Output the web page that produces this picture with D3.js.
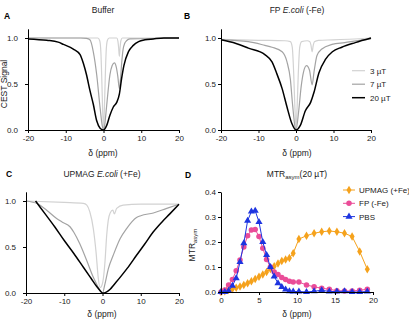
<!DOCTYPE html>
<html><head><meta charset="utf-8">
<script src="https://cdn.jsdelivr.net/npm/d3@7"></script>
<style>
body{margin:0;background:#fff;}
svg text{font-family:"Liberation Sans",Arial,sans-serif;}
</style></head>
<body><svg id="c" width="409" height="322"></svg>
<script>
// ---------- Data ----------
// Panel A: Buffer
const ppmA3 = [-20,-5,-1.5,-1.0,-0.7,-0.45,-0.25,0,0.25,0.45,0.7,1.0,1.5,3.5,3.8,4.0,4.2,4.4,4.6,5.0,20];
const sigA3 = [1.0,1.0,1.0,0.97,0.85,0.55,0.25,0.02,0.25,0.55,0.85,0.97,1.0,1.0,0.97,0.9,0.8,0.9,0.97,1.0,1.0];
const ppmA7 = [-20,-6,-4.5,-3.6,-2.7,-1.8,-0.9,-0.3,0,0.3,0.85,1.7,2.3,2.9,3.4,3.8,4.2,4.5,4.8,5.2,5.6,6.1,7,20];
const sigA7 = [1.0,1.0,0.995,0.98,0.85,0.6,0.24,0.04,0.0,0.05,0.27,0.6,0.7,0.73,0.68,0.58,0.45,0.55,0.72,0.88,0.94,0.97,0.99,1.0];
const ppmA20 = [-20,-15,-12,-10.6,-8,-6.2,-5.3,-4.5,-3.6,-2.7,-1.8,-0.9,0,0.85,1.7,2.6,3.5,4.2,4.8,5.4,6.6,7.9,9.3,11,13.2,16,20];
const sigA20 = [0.99,0.975,0.955,0.93,0.88,0.82,0.72,0.6,0.43,0.28,0.1,0.02,0.0,0.05,0.16,0.25,0.3,0.39,0.56,0.7,0.85,0.92,0.96,0.98,0.99,1.0,1.0];
// Panel B: FP E.coli (-Fe)
const ppmB3 = [-20,-10,-3,-1.5,-1.0,-0.6,-0.3,0,0.3,0.6,1.0,1.5,3,3.7,4.0,4.3,4.6,4.9,6,10,20];
const sigB3 = [0.985,0.975,0.97,0.96,0.9,0.6,0.25,0.03,0.25,0.6,0.9,0.96,0.97,0.96,0.92,0.85,0.92,0.96,0.975,0.98,1.0];
const ppmB7 = [-20,-12.7,-8.3,-6.4,-3.7,-2.4,-1.5,-0.9,-0.2,0,0.7,1.4,2.0,2.8,3.6,4.3,4.8,5.6,6.9,9.6,13,17,20];
const sigB7 = [0.98,0.96,0.92,0.9,0.85,0.74,0.55,0.27,0.02,0.0,0.2,0.48,0.63,0.70,0.65,0.49,0.63,0.81,0.88,0.93,0.95,0.975,0.99];
const ppmB20 = [-20,-16,-12.7,-8.3,-6.4,-5.1,-3.7,-2.4,-1.1,0,1.15,2.5,3.9,4.8,6.1,7.9,9.7,12.2,15.8,20];
const sigB20 = [0.98,0.94,0.89,0.82,0.74,0.61,0.45,0.25,0.07,0.0,0.05,0.21,0.30,0.41,0.62,0.77,0.85,0.9,0.95,1.0];
// Panel C: UPMAG E.coli (+Fe)
const ppmC3 = [-20,-10,-5,-4.1,-3.3,-2.4,-1.7,-1.1,-0.65,-0.3,0.2,0.65,1.1,1.5,2.0,2.7,3.1,3.7,5.4,10,20];
const sigC3 = [1.0,0.985,0.975,0.955,0.88,0.70,0.45,0.16,0.06,0.07,0.15,0.34,0.63,0.79,0.87,0.9,0.86,0.92,0.955,0.965,0.965];
const ppmC7 = [-20,-17,-14.6,-12,-10.5,-8.5,-7.5,-6,-4.1,-2.4,-1.1,-0.4,0,0.65,1.5,2.8,4.6,6.3,8.9,10,13.3,16.8,20];
const sigC7 = [1.0,0.97,0.9,0.81,0.77,0.72,0.66,0.54,0.35,0.17,0.06,0.01,0.0,0.1,0.26,0.41,0.59,0.70,0.82,0.84,0.87,0.92,0.965];
const ppmC20 = [-17.5,-15,-12.5,-10,-7.5,-5,-3,-1.5,-0.5,0,1,2,3,4.6,6.5,8.9,11,13.2,15.5,17.6,20];
const sigC20 = [1.0,0.86,0.72,0.57,0.43,0.28,0.16,0.07,0.02,0.0,0.01,0.04,0.09,0.17,0.27,0.41,0.53,0.66,0.77,0.86,0.965];
// Panel D: MTRasym (20 uT)
const ppmD = [0,0.5,1,1.5,2,2.5,3,3.5,4,4.5,5,5.5,6,6.5,7,7.5,8,8.5,9,9.5,10.25,11.25,12.25,13.25,14.25,15.25,16.25,17.25,18.25,19.25];
const mtrUPMAG = [0.0,0.003,0.008,0.012,0.017,0.022,0.028,0.035,0.043,0.052,0.061,0.07,0.08,0.092,0.103,0.114,0.124,0.13,0.136,0.155,0.212,0.225,0.235,0.241,0.244,0.241,0.235,0.222,0.162,0.091];
const mtrFP = [0.0,0.008,0.028,0.05,0.085,0.128,0.18,0.225,0.248,0.25,0.222,0.175,0.13,0.1,0.08,0.07,0.058,0.05,0.043,0.04,0.04,0.028,0.021,0.015,0.011,0.005,0.004,0.004,0.007,0.011];
const mtrPBS = [0.0,0.0,0.005,0.025,0.055,0.12,0.195,0.285,0.322,0.325,0.28,0.2,0.148,0.1,0.062,0.035,0.02,0.01,0.003,0.002,0.002,0.0,0.003,0.007,0.002,0.002,0.003,0.0,0.0,0.002];

const fieldLabels = ["3 µT","7 µT","20 µT"];
const fieldColors = ["#d2d2d2","#a3a3a3","#000000"];
const dLabels = ["UPMAG (+Fe)","FP (-Fe)","PBS"];
const dColors = ["#f5a21c","#ea4c98","#1d34e0"];
const xTicksZ = [-20,-10,0,10,20];
const yTicksZ = [0,0.5,1.0];
const xTicksD = [0,5,10,15,20];
const yTicksD = [0,0.1,0.2,0.3,0.4];

// ---------- Drawing ----------
const svg = d3.select("#c");
const FS = 8.5;
const TFS = 8;

function axes(x, y, xt, yt, yPad) {
  const gx = svg.append("g").attr("transform", `translate(0,${y.range()[0]})`)
    .call(d3.axisBottom(x).tickValues(xt).tickSize(3).tickSizeOuter(0).tickPadding(2).tickFormat(d3.format("d")));
  const gy = svg.append("g").attr("transform", `translate(${x.range()[0]},0)`)
    .call(d3.axisLeft(y).tickValues(yt).tickSize(3).tickSizeOuter(0).tickPadding(yPad).tickFormat(d3.format(".1f")));
  [gx, gy].forEach(g => {
    g.selectAll("text").attr("font-size", TFS).attr("fill", "#222").attr("font-family", "Liberation Sans, Arial, sans-serif");
    g.select(".domain").attr("stroke", "#000").attr("stroke-width", 1);
    g.selectAll(".tick line").attr("stroke", "#000");
  });
  gx.selectAll("text").text(d => d < 0 ? "-" + Math.abs(d) : d);
}

function zPanel(x0, x1, yBottom, yPad, series) {
  const x = d3.scaleLinear().domain([-20, 20]).range([x0, x1]);
  const y = d3.scaleLinear().domain([0, 1.1]).range([yBottom, yBottom - 92 * 1.1]);
  const line = d3.line().x(d => x(d[0])).y(d => y(d[1])).curve(d3.curveMonotoneX);
  series.forEach((s, i) => {
    const pts = s[0].map((v, j) => [v, s[1][j]]);
    svg.append("path").attr("d", line(pts)).attr("fill", "none")
      .attr("stroke", fieldColors[i]).attr("stroke-width", i === 2 ? 1.5 : 1.2);
  });
  axes(x, y, xTicksZ, yTicksZ, yPad);
  return x;
}

function text(t, x, y, opts = {}) {
  const el = svg.append("text").attr("x", x).attr("y", y).attr("font-size", opts.size || FS)
    .attr("text-anchor", opts.anchor || "middle").attr("fill", opts.fill || "#222");
  if (opts.bold) el.attr("font-weight", "bold");
  return el;
}

// Panel A
zPanel(28, 179, 130, 7, [[ppmA3, sigA3], [ppmA7, sigA7], [ppmA20, sigA20]]);
// Panel B
zPanel(221, 371, 130, 2, [[ppmB3, sigB3], [ppmB7, sigB7], [ppmB20, sigB20]]);
// Panel C
zPanel(26, 179, 293, 7, [[ppmC3, sigC3], [ppmC7, sigC7], [ppmC20, sigC20]]);

// Panel D
{
  const x = d3.scaleLinear().domain([0, 20]).range([221, 373]);
  const y = d3.scaleLinear().domain([0, 0.4]).range([292, 192]);
  const line = d3.line().x(d => x(d[0])).y(d => y(d[1]));
  const sets = [mtrUPMAG, mtrFP, mtrPBS];
  const sym = [d3.symbolDiamond, d3.symbolCircle, d3.symbolTriangle];
  const sz = [22, 24, 22];
  sets.forEach((vals, i) => {
    const pts = ppmD.map((v, j) => [v, vals[j]]);
    svg.append("path").attr("d", line(pts)).attr("fill", "none").attr("stroke", dColors[i]).attr("stroke-width", 1);
    svg.append("g").selectAll("path").data(pts).join("path")
      .attr("transform", d => `translate(${x(d[0])},${y(d[1])})`)
      .attr("d", d3.symbol().type(sym[i]).size(sz[i])).attr("fill", dColors[i]);
  });
  axes(x, y, xTicksD, yTicksD, 2);
  // legend
  dLabels.forEach((lab, i) => {
    const ly = 190 + i * 13.3;
    svg.append("line").attr("x1", 343).attr("x2", 355).attr("y1", ly).attr("y2", ly).attr("stroke", dColors[i]).attr("stroke-width", 1);
    svg.append("path").attr("transform", `translate(349,${ly})`).attr("d", d3.symbol().type(sym[i]).size(sz[i])).attr("fill", dColors[i]);
    text("", 359, ly + 3, { anchor: "start", size: 8 }).text(lab);
  });
}

// Legend B
fieldLabels.forEach((lab, i) => {
  const ly = 70.7 + i * 13.5;
  svg.append("line").attr("x1", 352).attr("x2", 365).attr("y1", ly).attr("y2", ly)
    .attr("stroke", fieldColors[i]).attr("stroke-width", i === 2 ? 1.5 : 1.2);
  text("", 370, ly + 3, { anchor: "start", size: 8 }).text(lab);
});

// Titles
text("", 103, 13).text("Buffer");
{
  const t = text("", 297, 13);
  t.append("tspan").text("FP ");
  t.append("tspan").attr("font-style", "italic").text("E.coli");
  t.append("tspan").text(" (-Fe)");
}
{
  const t = text("", 102, 177);
  t.append("tspan").text("UPMAG ");
  t.append("tspan").attr("font-style", "italic").text("E.coli");
  t.append("tspan").text(" (+Fe)");
}
{
  const t = text("", 297, 177);
  t.append("tspan").text("MTR");
  t.append("tspan").attr("font-size", 6).attr("dy", 2).text("asym");
  t.append("tspan").attr("dy", -2).text("(20 µT)");
}
// Panel letters
text("", 7, 19, { bold: true, size: 8.5, fill: "#000" }).text("A");
text("", 187, 19, { bold: true, size: 8.5, fill: "#000" }).text("B");
text("", 9, 177, { bold: true, size: 8.5, fill: "#000" }).text("C");
text("", 188, 178, { bold: true, size: 8.5, fill: "#000" }).text("D");
// Axis labels
text("", 103, 156).text("δ (ppm)");
text("", 297, 156).text("δ (ppm)");
text("", 102, 317).text("δ (ppm)");
text("", 297, 317).text("δ (ppm)");
text("", 0, 0).attr("transform", "translate(7,84) rotate(-90)").text("CEST Signal");
{
  const t = text("", 0, 0).attr("transform", "translate(195,245) rotate(-90)");
  t.append("tspan").text("MTR");
  t.append("tspan").attr("font-size", 6).attr("dy", 2).text("asym");
}
</script></body></html>
